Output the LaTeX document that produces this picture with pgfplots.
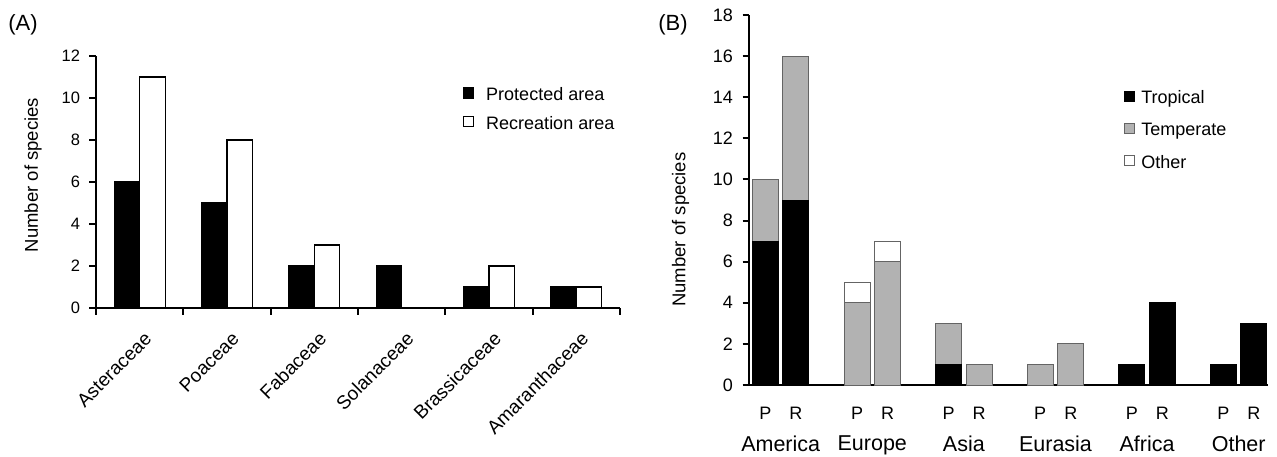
\documentclass[border=0pt]{standalone}
\usepackage{fontspec}
\setmainfont{Liberation Sans}
\usepackage{pgfplots}
\pgfplotsset{compat=1.18}
\definecolor{tempgray}{RGB}{178,178,178}
\definecolor{edgegray}{RGB}{100,100,100}
\newcommand{\fs}[1]{\fontsize{#1}{#1}\selectfont}
\newcommand{\pl}{\fs{18}P}
\newcommand{\rl}{\fs{18}R}
\begin{document}
\begin{tikzpicture}[x=1pt,y=1pt]
\useasboundingbox (0,0) rectangle (1277,456);
\node[font=\fs{22}] at (23,431) {(A)};
\node[font=\fs{22}] at (673,431) {(B)};
% ---------------- Panel A
\begin{axis}[
  at={(96pt,148pt)}, anchor=south west,
  scale only axis, width=524pt, height=252pt,
  xmin=-0.5, xmax=5.5, ymin=0, ymax=12,
  axis lines*=left, axis line style={line width=2pt},
  tick align=outside, major tick length=6.5pt,
  tick style={line width=2pt, black},
  ytick={0,2,...,12},
  xtick={-0.5,0.5,...,5.5}, xticklabels={},
  extra x ticks={0,1,2,3,4,5},
  extra x tick labels={Asteraceae,Poaceae,Fabaceae,Solanaceae,Brassicaceae,Amaranthaceae},
  extra x tick style={major tick length=0pt, tick label style={xshift=11pt, yshift=-25pt, rotate=45, anchor=east, font=\fs{19}}},
  /pgf/number format/assume math mode=true,
  yticklabel style={font=\fs{16.5}, xshift=-6pt},
  ylabel={Number of species},
  every axis y label/.style={at={(axis description cs:-0.12,0.528)}, rotate=90, anchor=center, font=\fs{18.5}},
  legend style={draw=none, fill=none, at={(0.6995,0.876)}, anchor=north west,
     font=\fs{18}, row sep=12pt, inner sep=0pt,
     nodes={inner sep=1pt, text height=0.72em, text depth=0.22em},
     /tikz/every odd column/.append style={column sep=11pt}},
  legend cell align=left,
  legend image code/.code={\draw[#1, line width=1.5pt] (0pt,0pt) rectangle (10pt,10pt);},
]
\addplot[ybar, bar width=25.5pt, bar shift=-12.75pt, fill=black, draw=black, line width=1.2pt]
  coordinates {(0,6) (1,5) (2,2) (3,2) (4,1) (5,1)};
\addplot[ybar, bar width=25.5pt, bar shift=12.75pt, fill=white, draw=black, line width=1.2pt]
  coordinates {(0,11) (1,8) (2,3) (3,0) (4,2) (5,1)};
\legend{Protected area, Recreation area}
\end{axis}
% ---------------- Panel B
\begin{axis}[
  at={(749pt,71pt)}, anchor=south west,
  scale only axis, width=519pt, height=370pt,
  xmin=-0.346, xmax=5.32, ymin=0, ymax=18,
  axis lines*=left, axis line style={line width=2pt},
  tick align=outside, major tick length=6.5pt,
  tick style={line width=2pt, black},
  ytick={0,2,...,18},
  xtick={-0.167,0.167,0.833,1.167,1.833,2.167,2.833,3.167,3.833,4.167,4.833,5.167},
  xticklabels={\pl,\rl,\pl,\rl,\pl,\rl,\pl,\rl,\pl,\rl,\pl,\rl},
  xtick style={draw=none},
  xticklabel style={yshift=-12pt},
  extra x ticks={0,1,2,3,4,5},
  extra x tick labels={\fs{21.5}America,\fs{21.5}Europe,\fs{21.5}Asia,\fs{21.5}Eurasia,\fs{21.5}Africa,\fs{21.5}Other},
  extra x tick style={major tick length=0pt, tick label style={yshift=-35pt}},
  /pgf/number format/assume math mode=true,
  yticklabel style={font=\fs{18}, xshift=-6pt},
  ylabel={Number of species},
  every axis y label/.style={at={(axis description cs:-0.132,0.42)}, rotate=90, anchor=center, font=\fs{18.5}},
  ybar stacked, bar width=26pt,
  legend style={draw=none, fill=none, at={(0.7225,0.7965)}, anchor=north west,
     font=\fs{18}, row sep=16pt, inner sep=0pt,
     nodes={inner sep=1pt, text height=0.72em, text depth=0.22em},
     /tikz/every odd column/.append style={column sep=5pt}},
  legend cell align=left,
  legend image code/.code={\draw[#1, line width=1.2pt] (0pt,0pt) rectangle (10pt,10pt);},
]
\addplot[fill=black, draw=black, line width=1pt] coordinates {
 (-0.167,7) (0.167,9) (0.833,0) (1.167,0) (1.833,1) (2.167,0)
 (2.833,0) (3.167,0) (3.833,1) (4.167,4) (4.833,1) (5.167,3)};
\addplot[fill=tempgray, draw=edgegray, line width=1pt] coordinates {
 (-0.167,3) (0.167,7) (0.833,4) (1.167,6) (1.833,2) (2.167,1)
 (2.833,1) (3.167,2) (3.833,0) (4.167,0) (4.833,0) (5.167,0)};
\addplot[fill=white, draw=edgegray, line width=1pt] coordinates {
 (-0.167,0) (0.167,0) (0.833,1) (1.167,1) (1.833,0) (2.167,0)
 (2.833,0) (3.167,0) (3.833,0) (4.167,0) (4.833,0) (5.167,0)};
\legend{Tropical, Temperate, Other}
\end{axis}
\end{tikzpicture}
\end{document}
